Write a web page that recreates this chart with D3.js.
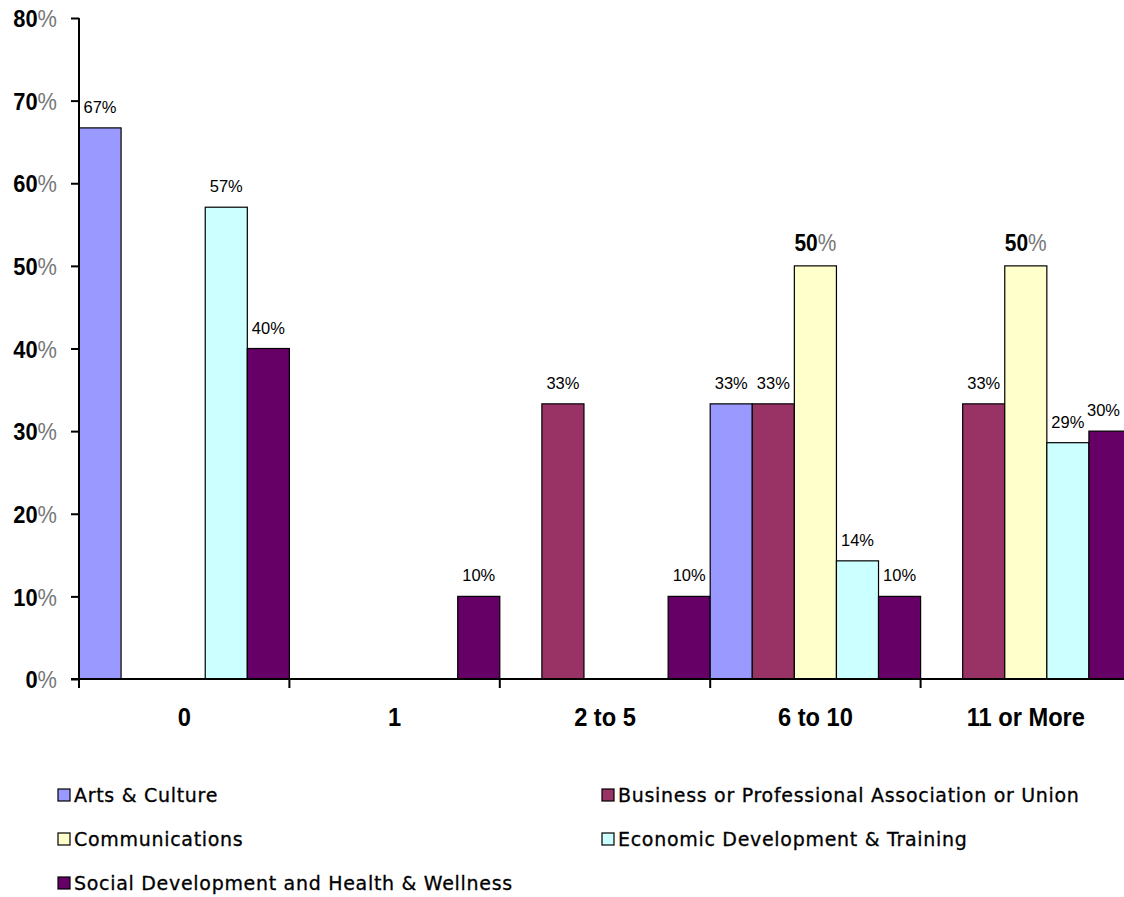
<!DOCTYPE html>
<html>
<head>
<meta charset="utf-8">
<script src="https://cdn.jsdelivr.net/npm/d3@7"></script>
<style>
  html, body { margin: 0; padding: 0; background: #ffffff; }
  svg { display: block; }
</style>
</head>
<body>
<svg id="chart" width="1124" height="897"></svg>
<script>
// Number of groups by share of respondents in each sector (percent)
const categories = ["0", "1", "2 to 5", "6 to 10", "11 or More"];
const seriesNames = [
  "Arts & Culture",
  "Business or Professional Association or Union",
  "Communications",
  "Economic Development & Training",
  "Social Development and Health & Wellness"
];
const artsCulture     = [66.7, 0, 0, 33.3, 0];
const business        = [0, 0, 33.3, 33.3, 33.3];
const communications  = [0, 0, 0, 50, 50];
const economicDev     = [57.1, 0, 0, 14.3, 28.6];
const socialDev       = [40, 10, 10, 10, 30];
const yTicks = [0, 10, 20, 30, 40, 50, 60, 70, 80];

const seriesValues = [artsCulture, business, communications, economicDev, socialDev];
const colors = ["#9999ff", "#993366", "#ffffcc", "#ccffff", "#660066"];

const W = 1124;
const svg = d3.select("#chart");
const plot = { left: 79, right: 1131, top: 18, bottom: 679 };

const x0 = d3.scaleBand().domain(categories).range([plot.left, plot.right]).padding(0);
const x1 = d3.scaleBand().domain(d3.range(seriesNames.length)).range([0, x0.bandwidth()]).padding(0);
const y = d3.scaleLinear().domain([0, 80]).range([plot.bottom, plot.top]);
const color = d3.scaleOrdinal().domain(d3.range(seriesNames.length)).range(colors);

const sans = "'Liberation Sans', Arial, Helvetica, sans-serif";
const squeeze = 0.91; // horizontal compression for the heavy axis lettering

// Bars
const rows = categories.map((c, ci) => ({
  cat: c,
  items: seriesValues.map((vals, si) => ({ si, v: vals[ci] }))
}));

const groups = svg.append("g").selectAll("g")
  .data(rows).join("g")
  .attr("transform", d => `translate(${x0(d.cat)},0)`);

groups.selectAll("rect")
  .data(d => d.items.filter(i => i.v > 0))
  .join("rect")
  .attr("x", d => x1(d.si))
  .attr("y", d => y(d.v))
  .attr("width", x1.bandwidth())
  .attr("height", d => y(0) - y(d.v))
  .attr("fill", d => color(d.si))
  .attr("stroke", "#000")
  .attr("stroke-width", 1.2);

// Value labels above each bar
const labels = svg.append("g");
rows.forEach(row => {
  row.items.filter(i => i.v > 0).forEach(d => {
    const cx = x0(row.cat) + x1(d.si) + x1.bandwidth() / 2;
    const ly = y(d.v) - 15;
    const n = Math.round(d.v);
    if (d.si === 2) {
      const t = labels.append("text")
        .attr("transform", `translate(${cx},${ly}) scale(${squeeze},1)`)
        .attr("text-anchor", "middle")
        .attr("font-family", sans).attr("font-weight", "bold").attr("font-size", 23).attr("fill", "#000");
      t.append("tspan").text(n);
      t.append("tspan").attr("fill", "#777").attr("font-weight", "normal").text("%");
    } else {
      const t = labels.append("text")
        .attr("x", cx).attr("y", ly)
        .attr("text-anchor", "middle")
        .attr("font-family", sans).attr("font-size", 16.5).attr("fill", "#000")
        .text(n + "%");
      // keep labels inside the drawing's right edge
      const w = t.node().getComputedTextLength();
      if (cx + w / 2 > W - 4) t.attr("x", W - 4 - w / 2);
    }
  });
});

// Y axis
const yAxis = d3.axisLeft(y).tickValues(yTicks).tickSize(8).tickPadding(14).tickFormat(d => d);
const gy = svg.append("g").attr("transform", `translate(${plot.left},0)`).call(yAxis);
gy.select(".domain").attr("stroke", "#000").attr("stroke-width", 2).attr("d", `M0,${plot.top}V${plot.bottom}`);
gy.selectAll(".tick line").attr("stroke", "#000").attr("stroke-width", 2);
gy.selectAll(".tick text")
  .attr("font-family", sans).attr("font-weight", "bold").attr("font-size", 24).attr("fill", "#000")
  .attr("x", -22 / squeeze)
  .attr("transform", `scale(${squeeze},1)`)
  .attr("dy", "0.36em")
  .each(function (d) {
    const t = d3.select(this);
    t.text(null);
    t.append("tspan").text(d);
    t.append("tspan").attr("fill", "#777").attr("font-weight", "normal").text("%");
  });

// X axis
const xAxis = d3.axisBottom(x0).tickSize(0).tickPadding(0);
const gx = svg.append("g").attr("transform", `translate(0,${plot.bottom})`).call(xAxis);
gx.select(".domain").attr("stroke", "#000").attr("stroke-width", 2).attr("d", `M${plot.left - 8},0H${plot.right}`);
gx.selectAll(".tick text")
  .attr("y", 47).attr("dy", 0)
  .attr("transform", `scale(${squeeze},1)`)
  .attr("font-family", sans).attr("font-weight", "bold").attr("font-size", 26).attr("fill", "#000");

// Category separators below the axis
gx.append("g").selectAll("line")
  .data(categories)
  .join("line")
  .attr("x1", d => x0(d)).attr("x2", d => x0(d))
  .attr("y1", 0).attr("y2", 9)
  .attr("stroke", "#000").attr("stroke-width", 2);

// Legend
const legend = svg.append("g");
const legendPos = [
  { x: 58, y: 795 }, { x: 602, y: 795 },
  { x: 58, y: 839 }, { x: 602, y: 839 },
  { x: 58, y: 883 }
];
const li = legend.selectAll("g").data(seriesNames).join("g")
  .attr("transform", (d, i) => `translate(${legendPos[i].x},${legendPos[i].y})`);
li.append("rect")
  .attr("x", 0).attr("y", -6).attr("width", 12).attr("height", 12)
  .attr("fill", (d, i) => color(i)).attr("stroke", "#000").attr("stroke-width", 1.2);
li.append("text")
  .attr("x", 16).attr("y", 7)
  .attr("font-family", "'DejaVu Sans', Verdana, sans-serif")
  .attr("font-size", 19).attr("letter-spacing", 0.7).attr("fill", "#000")
  .attr("stroke", "#000").attr("stroke-width", 0.3)
  .text(d => d);
</script>
</body>
</html>
